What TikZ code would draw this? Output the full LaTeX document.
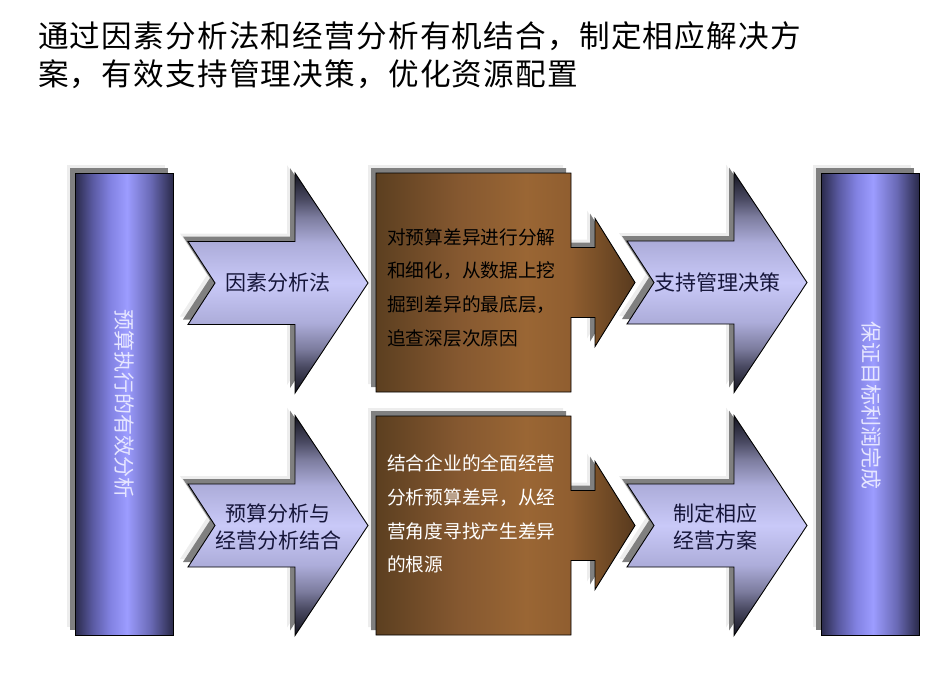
\documentclass[tikz,border=0pt]{standalone}
\usepackage{fontspec}
\setmainfont{Noto Sans CJK SC}
\usepackage{xcolor}
\usetikzlibrary{shadows}

\definecolor{bardark}{HTML}{2A2A4A}
\definecolor{barmid}{HTML}{5A5AA2}
\definecolor{barlite}{HTML}{8282E2}
\definecolor{barpeak}{HTML}{9C9CFF}
\definecolor{barside}{HTML}{6A6AB6}
\definecolor{chevdark}{HTML}{15151F}
\definecolor{chevgray}{HTML}{4A4A62}
\definecolor{chevmid}{HTML}{7C7C9E}
\definecolor{chevlite}{HTML}{ADADDA}
\definecolor{chevpeak}{HTML}{C9C9F8}
\definecolor{browndark}{HTML}{5C3F20}
\definecolor{brownmid}{HTML}{855830}
\definecolor{brownpeak}{HTML}{9A6634}
\definecolor{brownside}{HTML}{905E30}
\definecolor{brownstub}{HTML}{7A5028}
\definecolor{browntip}{HTML}{583A1E}
\definecolor{chevink}{HTML}{16163A}
\definecolor{barink}{HTML}{E6E6FF}

\pgfdeclarehorizontalshading{barshade}{100bp}{color(0bp)=(bardark); color(25bp)=(bardark);
  color(34bp)=(barmid); color(43bp)=(barlite); color(51.5bp)=(barpeak); color(63.5bp)=(barside);
  color(75bp)=(bardark); color(100bp)=(bardark)}
\pgfdeclareverticalshading{chevshade}{100bp}{color(0bp)=(chevdark); color(25bp)=(chevdark);
  color(31bp)=(chevgray); color(35bp)=(chevmid); color(41bp)=(chevlite); color(50bp)=(chevpeak);
  color(59bp)=(chevlite); color(65bp)=(chevmid); color(69bp)=(chevgray); color(75bp)=(chevdark);
  color(100bp)=(chevdark)}
\pgfdeclarehorizontalshading{brownshade}{100bp}{color(0bp)=(browndark); color(25bp)=(browndark);
  color(41bp)=(brownmid); color(54bp)=(brownpeak); color(62.5bp)=(brownside); color(67.5bp)=(brownstub);
  color(75bp)=(browntip); color(100bp)=(browntip)}

\begin{document}
\begin{tikzpicture}[x=1pt, y=-1pt,
  halo/.style={drop shadow={shadow xshift=-8pt, shadow yshift=8pt, fill=black!7, opacity=1},
               drop shadow={shadow xshift=-5pt, shadow yshift=5pt, fill=black!50, opacity=1}},
  bar/.style={halo, shade, shading=barshade, draw=black, line width=0.9pt},
  chevron/.style={halo, shade, shading=chevshade, draw=black, line width=0.9pt},
  brownbox/.style={halo, shade, shading=brownshade, draw=black, line width=0.9pt},
  bartext/.style={rotate=-90, text=barink, inner sep=0pt, font=\fontsize{21}{26}\selectfont},
  chevtext/.style={text=chevink, align=center, inner sep=0pt, font=\fontsize{21}{27}\selectfont},
  browntext/.style={anchor=west, align=left, inner sep=0pt, font=\fontsize{18.7}{33.7}\selectfont}
]
  \useasboundingbox (0,0) rectangle (952,691);

  % title
  \node[anchor=west, align=left, inner sep=0pt,
        font=\fontsize{30.6}{38}\selectfont\addfontfeature{LetterSpace=4}] (title) at (38,55)
    {通过因素分析法和经营分析有机结合，制定相应解决方\\案，有效支持管理决策，优化资源配置};

  % side bars
  \path[bar] (75,173) rectangle (173,635);
  \path[bar] (821,173) rectangle (919,635);
  \node[bartext] (budget) at (124,404) {预算执行的有效分析};
  \node[bartext] (profit) at (871,405) {保证目标利润完成};

  % brown boxes
  \foreach \bx/\by in {376/282.5, 376/525.5}
    \path[brownbox, shift={(\bx,\by)}] (0,-109.5) -- (195,-109.5) -- (195,-35) -- (219,-35) -- (219,-64)
      -- (259,0) -- (219,64) -- (219,35) -- (195,35) -- (195,109.5) -- (0,109.5) -- cycle;
  \node[browntext, text=black] (drill) at (387,287.5)
    {对预算差异进行分解\\和细化，从数据上挖\\掘到差异的最底层，\\追查深层次原因};
  \node[browntext, text=white] (source) at (387,514)
    {结合企业的全面经营\\分析预算差异，从经\\营角度寻找产生差异\\的根源};

  % chevrons
  \foreach \ax/\ay in {188/283, 188/525.5, 627/282.5, 627/525.5}
    \path[chevron, shift={(\ax,\ay)}] (0,-41.5) -- (107,-41.5) -- (107,-110) -- (180,0)
      -- (107,110) -- (107,41.5) -- (0,41.5) -- (27,0) -- cycle;
  \node[chevtext] (factor) at (278,283) {因素分析法};
  \node[chevtext] (combine) at (278,527) {预算分析与\\经营分析结合};
  \node[chevtext] (decide) at (717,282.5) {支持管理决策};
  \node[chevtext] (plan) at (715,527) {制定相应\\经营方案};
\end{tikzpicture}
\end{document}
